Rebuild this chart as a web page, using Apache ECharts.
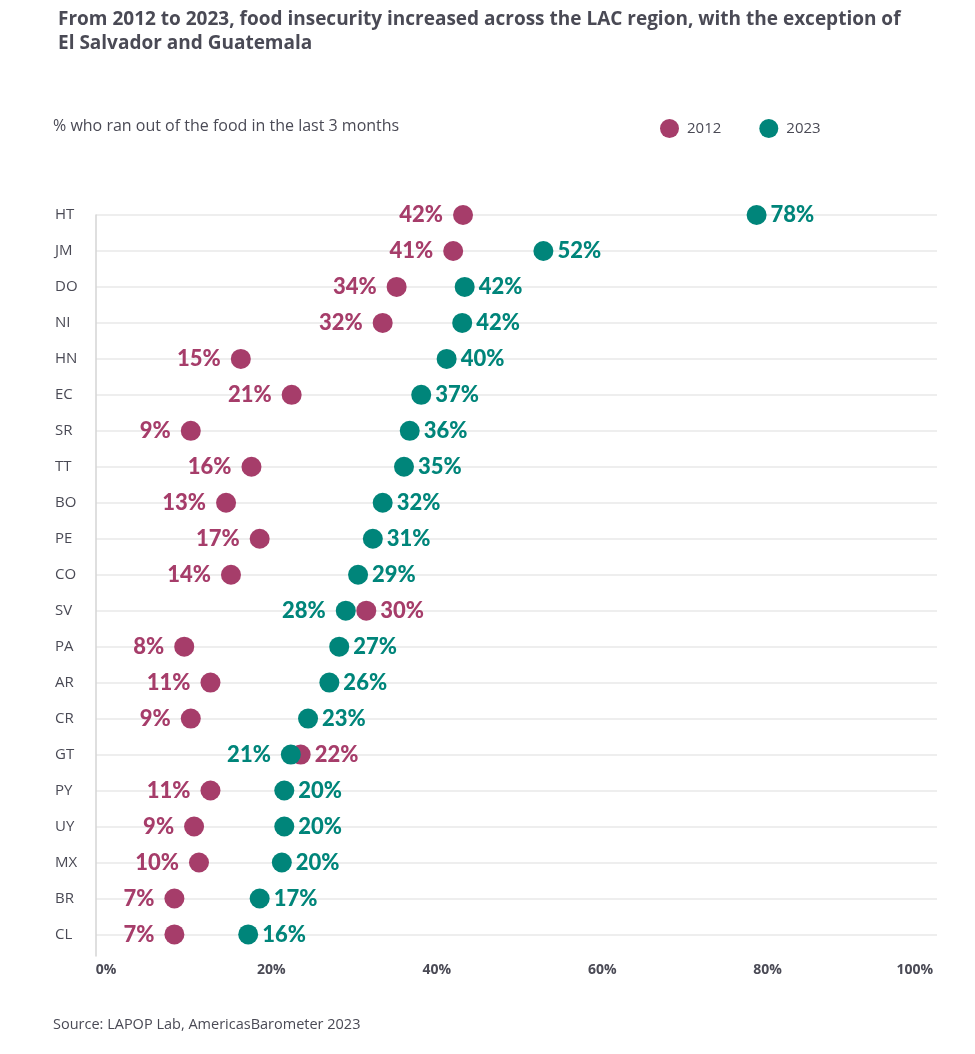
<!DOCTYPE html>
<html>
<head>
<meta charset="utf-8">
<script src="https://cdn.jsdelivr.net/npm/echarts@6/dist/echarts.min.js"></script>
<style>
  html, body { margin: 0; padding: 0; background: #fff; }
  #chart { width: 975px; height: 1054px; }
</style>
</head>
<body>
<div id="chart"></div>
<script>
// ---- Data ----
const countries = ['HT','JM','DO','NI','HN','EC','SR','TT','BO','PE','CO','SV','PA','AR','CR','GT','PY','UY','MX','BR','CL'];
const values2012 = [42.2, 41.0, 34.1, 32.4, 15.1, 21.3, 9.0, 16.4, 13.3, 17.4, 13.9, 30.4, 8.2, 11.4, 9.0, 22.4, 11.4, 9.4, 10.0, 7.0, 7.0];
const values2023 = [78.0, 52.0, 42.4, 42.1, 40.2, 37.1, 35.7, 35.0, 32.4, 31.2, 29.4, 27.9, 27.1, 25.9, 23.3, 21.2, 20.4, 20.4, 20.1, 17.4, 16.0];
const axisTicks = [0, 20, 40, 60, 80, 100];
const seriesNames = ['2012', '2023'];

const C2012 = '#a63d6a';
const C2023 = '#00857a';
const FONT = 'Lato, "Open Sans", sans-serif';
const FONT_WIDE = '"Open Sans", Lato, sans-serif';

function buildData(own, other) {
  return own.map((v, i) => {
    const isLeft = v < other[i];
    return {
      value: [v, i],
      label: {
        position: isLeft ? 'left' : 'right',
        distance: isLeft ? 10 : 4
      }
    };
  });
}

function makeSeries(name, own, other, color) {
  return {
    name: name,
    type: 'scatter',
    xAxisIndex: 0,
    yAxisIndex: 0,
    symbol: 'circle',
    symbolSize: 20,
    itemStyle: { color: color, opacity: 1 },
    label: {
      show: true,
      formatter: p => Math.round(p.value[0]) + '%',
      color: color,
      fontFamily: FONT,
      fontWeight: 900,
      fontSize: 22
    },
    emphasis: { disabled: true },
    data: buildData(own, other),
    z: 3
  };
}

const chart = echarts.init(document.getElementById('chart'), null, { renderer: 'canvas' });
chart.setOption({
  animation: false,
  backgroundColor: '#ffffff',
  textStyle: { fontFamily: FONT },
  title: {
    text: 'From 2012 to 2023, food insecurity increased across the LAC region, with the exception of\nEl Salvador and Guatemala',
    left: 53,
    top: 3,
    textStyle: { fontFamily: FONT_WIDE, fontSize: 19, fontWeight: 'bold', color: '#4a4a55', lineHeight: 24 }
  },
  legend: {
    data: seriesNames,
    left: 655,
    top: 114,
    icon: 'circle',
    itemWidth: 19,
    itemHeight: 19,
    itemGap: 38,
    textStyle: { fontFamily: FONT_WIDE, fontSize: 15, color: '#4a4a55', padding: [0, 0, 0, 3] }
  },
  graphic: [
    {
      type: 'text',
      left: 53,
      top: 118,
      style: { text: '% who ran out of the food in the last 3 months', font: '16px ' + FONT_WIDE, fill: '#4a4a55' }
    },
    {
      type: 'text',
      left: 53,
      top: 1017,
      style: { text: 'Source: LAPOP Lab, AmericasBarometer 2023', font: '14.5px ' + FONT_WIDE, fill: '#4a4a55' }
    }
  ],
  grid: { left: 96, right: 38, top: 215, bottom: 98 },
  xAxis: [
    {
      type: 'value',
      min: -2.56,
      max: 100,
      show: false
    },
    {
      type: 'value',
      min: -1.21,
      max: 100.48,
      position: 'bottom',
      axisLine: { show: false, onZero: false },
      axisTick: { show: false },
      splitLine: { show: false },
      axisLabel: {
        customValues: axisTicks,
        formatter: v => v + '%',
        alignMaxLabel: 'right',
        margin: 7,
        fontFamily: FONT_WIDE,
        fontSize: 14,
        fontWeight: 'bold',
        color: '#4a4a55'
      }
    }
  ],
  yAxis: {
    type: 'value',
    inverse: true,
    min: 0,
    max: 20.6,
    interval: 1,
    axisLine: { show: true, onZero: false, lineStyle: { color: '#d4d4d4', width: 1.5 } },
    axisTick: { show: false },
    splitLine: { show: true, showMaxLine: false, lineStyle: { color: '#e8e8e8', width: 1.5 } },
    axisLabel: {
      formatter: v => Number.isInteger(v) && countries[v] ? countries[v] : '',
      align: 'left',
      margin: 41,
      fontFamily: FONT_WIDE,
      fontSize: 15,
      color: '#4a4a55'
    }
  },
  series: [
    makeSeries(seriesNames[0], values2012, values2023, C2012),
    makeSeries(seriesNames[1], values2023, values2012, C2023)
  ]
});
</script>
</body>
</html>
